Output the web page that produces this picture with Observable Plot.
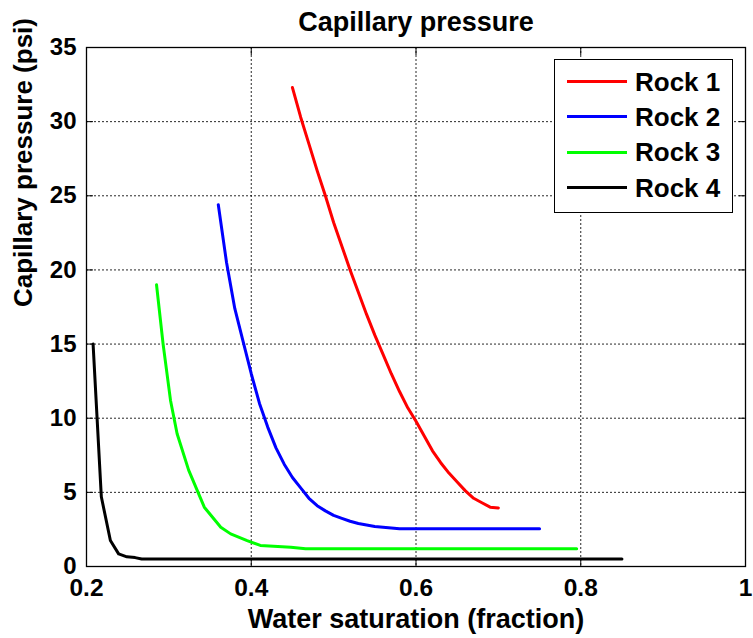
<!DOCTYPE html>
<html>
<head>
<meta charset="utf-8">
<script src="https://cdn.jsdelivr.net/npm/d3@7"></script>
<script src="https://cdn.jsdelivr.net/npm/@observablehq/plot@0.6"></script>
<style>
  html, body { margin: 0; padding: 0; background: white; }
  #wrap { position: relative; width: 753px; height: 638px; font-family: "Liberation Sans", Arial, sans-serif; }
  #legend { position: absolute; left: 554px; top: 59px; width: 177px; height: 148px; border: 1px solid black; background: white; padding-top: 4px; box-sizing: content-box; }
  #legend .row { display: flex; align-items: center; height: 35.3px; }
  #legend .sw { margin-left: 12px; width: 60px; height: 3px; }
  #legend .lab { margin-left: 8px; font-size: 26px; font-weight: bold; line-height: 1; }
</style>
</head>
<body>
<div id="wrap"></div>
<script>
const chartTitle = "Capillary pressure";
const xLabel = "Water saturation (fraction)";
const yLabel = "Capillary pressure (psi)";
const rockNames = ["Rock 1", "Rock 2", "Rock 3", "Rock 4"];
const rockColors = ["#ff0000", "#0000ff", "#00ff00", "#000000"];

const rock1Sw = [0.45, 0.46, 0.47, 0.48, 0.49, 0.50, 0.51, 0.52, 0.53, 0.54, 0.55, 0.56, 0.57, 0.58, 0.59, 0.60, 0.61, 0.62, 0.63, 0.64, 0.65, 0.66, 0.67, 0.68, 0.69, 0.70];
const rock1Pc = [32.3, 30.3, 28.5, 26.7, 25.0, 23.2, 21.6, 20.0, 18.5, 17.0, 15.6, 14.3, 13.0, 11.8, 10.7, 9.8, 8.8, 7.8, 7.0, 6.3, 5.7, 5.1, 4.6, 4.3, 4.0, 3.95];

const rock2Sw = [0.36, 0.37, 0.38, 0.39, 0.40, 0.41, 0.42, 0.43, 0.44, 0.45, 0.46, 0.47, 0.48, 0.49, 0.50, 0.51, 0.52, 0.53, 0.54, 0.55, 0.56, 0.57, 0.58, 0.75];
const rock2Pc = [24.4, 20.5, 17.4, 15.2, 13.0, 11.0, 9.4, 8.0, 6.9, 6.0, 5.3, 4.6, 4.1, 3.75, 3.45, 3.25, 3.05, 2.9, 2.8, 2.7, 2.65, 2.6, 2.55, 2.55];

const rock3Sw = [0.285, 0.293, 0.302, 0.310, 0.324, 0.343, 0.363, 0.375, 0.395, 0.411, 0.427, 0.448, 0.466, 0.795];
const rock3Pc = [19.0, 15.0, 11.2, 8.95, 6.5, 4.0, 2.65, 2.2, 1.75, 1.42, 1.37, 1.30, 1.2, 1.2];

const rock4Sw = [0.208, 0.218, 0.229, 0.239, 0.249, 0.259, 0.267, 0.85];
const rock4Pc = [15.0, 4.7, 1.75, 0.85, 0.65, 0.6, 0.5, 0.5];

const xTicks = [0.2, 0.4, 0.6, 0.8, 1];
const xTickLabels = ["0.2", "0.4", "0.6", "0.8", "1"];
const yTicks = [0, 5, 10, 15, 20, 25, 30, 35];
const yTickLabels = ["0", "5", "10", "15", "20", "25", "30", "35"];

const seriesSw = [rock1Sw, rock2Sw, rock3Sw, rock4Sw];
const seriesPc = [rock1Pc, rock2Pc, rock3Pc, rock4Pc];
const data = [];
rockNames.forEach((name, k) => {
  seriesSw[k].forEach((sw, i) => data.push({rock: name, sw, pc: seriesPc[k][i]}));
});

const gridStyle = {stroke: "black", strokeOpacity: 0.85, strokeDasharray: "2,2", strokeWidth: 1};
const inTick = {tickSize: -7, tickFormat: () => "", label: null, stroke: "black"};

const chart = Plot.plot({
  width: 753,
  height: 638,
  marginLeft: 86,
  marginRight: 8,
  marginTop: 47,
  marginBottom: 72,
  style: {fontFamily: "'Liberation Sans', Arial, sans-serif", fontWeight: "bold", background: "white", color: "black", overflow: "visible"},
  x: {domain: [0.2, 1]},
  y: {domain: [0, 35]},
  color: {domain: rockNames, range: rockColors},
  marks: [
    Plot.gridX(xTicks.slice(1, -1), gridStyle),
    Plot.gridY(yTicks.slice(1, -1), gridStyle),
    Plot.line(data, {x: "sw", y: "pc", z: "rock", stroke: "rock", strokeWidth: 3}),
    Plot.frame({stroke: "black", strokeWidth: 1.3}),
    Plot.axisX(xTicks, {anchor: "bottom", ...inTick}),
    Plot.axisX(xTicks, {anchor: "top", ...inTick}),
    Plot.axisY(yTicks, {anchor: "left", ...inTick}),
    Plot.axisY(yTicks, {anchor: "right", ...inTick}),
    Plot.axisX(xTicks, {anchor: "bottom", tickSize: 0, tickPadding: 12, fontSize: 24.5, fontWeight: "bold", tickFormat: (d, i) => xTickLabels[i], label: null}),
    Plot.axisY(yTicks, {anchor: "left", tickSize: 0, tickPadding: 10, fontSize: 24, fontWeight: "bold", tickFormat: (d, i) => yTickLabels[i], label: null}),
    Plot.text([chartTitle], {text: d => d, frameAnchor: "top", dy: -17, lineAnchor: "bottom", fontSize: 27, fontWeight: "bold", fill: "black"}),
    Plot.text([xLabel], {text: d => d, frameAnchor: "bottom", dy: 61, lineAnchor: "bottom", fontSize: 27, fontWeight: "bold", fill: "black"}),
    Plot.text([yLabel], {text: d => d, frameAnchor: "left", dx: -73, rotate: -90, lineAnchor: "top", fontSize: 26, fontWeight: "bold", fill: "black"})
  ]
});

const wrap = document.getElementById("wrap");
wrap.appendChild(chart);

const legend = document.createElement("div");
legend.id = "legend";
rockNames.forEach((name, k) => {
  const row = document.createElement("div");
  row.className = "row";
  const sw = document.createElement("div");
  sw.className = "sw";
  sw.style.background = rockColors[k];
  const lab = document.createElement("span");
  lab.className = "lab";
  lab.textContent = name;
  row.appendChild(sw);
  row.appendChild(lab);
  legend.appendChild(row);
});
wrap.appendChild(legend);
</script>
</body>
</html>
